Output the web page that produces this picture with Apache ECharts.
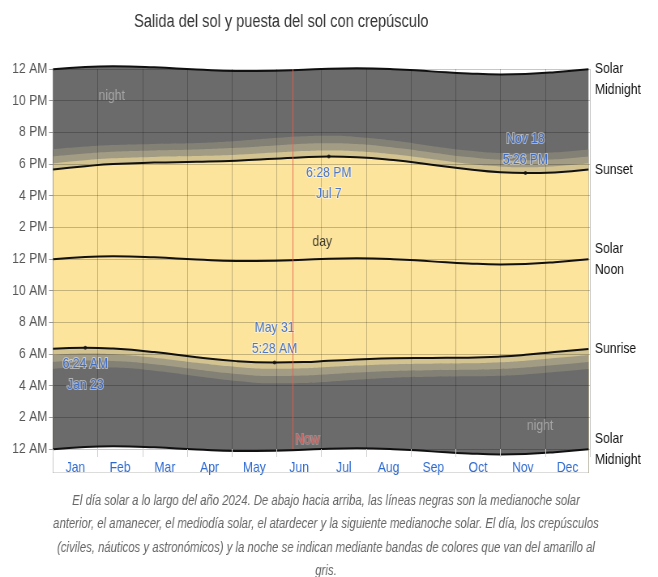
<!DOCTYPE html>
<html><head><meta charset="utf-8">
<script src="https://cdn.jsdelivr.net/npm/echarts@6/dist/echarts.min.js"></script>
<style>
html,body{margin:0;padding:0;background:#fff;overflow:hidden}
#wrap{width:658px;height:577px;overflow:hidden}
#c{width:812px;height:577px;transform:scaleX(0.8103);transform-origin:0 0}
</style>
</head><body><div id="wrap"><div id="c"></div></div>
<script>
const FONT = "'Liberation Sans', Arial, sans-serif";
const S = 658 / 812; // horizontal compression of the whole drawing

// ---- data (hours of day) ----
const months = ['Jan','Feb','Mar','Apr','May','Jun','Jul','Aug','Sep','Oct','Nov','Dec'];
const yTickLabels = ['12 AM','2 AM','4 AM','6 AM','8 AM','10 AM','12 PM','2 PM','4 PM','6 PM','8 PM','10 PM','12 AM'];
// day of year 2024 (0 = Jan 1)
const days       = [0, 22, 41, 69, 98, 125, 151, 171, 188, 207, 232, 258, 283, 305, 322, 342, 365];
const midPrev    = [-0.01, 0.13, 0.17, 0.11, -0.03, -0.12, -0.11, -0.04, 0.02, 0.04, -0.01, -0.15, -0.28, -0.34, -0.31, -0.20, -0.01];
const astroDawn  = [5.06, 5.16, 5.14, 4.94, 4.60, 4.30, 4.15, 4.17, 4.25, 4.37, 4.50, 4.56, 4.59, 4.63, 4.71, 4.86, 5.05];
const nautDawn   = [5.50, 5.59, 5.56, 5.35, 5.02, 4.74, 4.61, 4.64, 4.72, 4.83, 4.93, 4.98, 5.00, 5.05, 5.14, 5.30, 5.49];
const civilDawn  = [5.94, 6.03, 5.98, 5.76, 5.44, 5.18, 5.07, 5.10, 5.18, 5.27, 5.36, 5.39, 5.41, 5.48, 5.58, 5.75, 5.94];
const sunrise    = [6.33, 6.40, 6.34, 6.12, 5.80, 5.55, 5.467, 5.49, 5.57, 5.65, 5.73, 5.75, 5.77, 5.84, 5.95, 6.13, 6.32];
const noon       = [11.99, 12.13, 12.17, 12.11, 11.97, 11.88, 11.89, 11.96, 12.02, 12.04, 11.99, 11.85, 11.72, 11.66, 11.69, 11.80, 11.99];
const sunset     = [17.66, 17.86, 18.00, 18.09, 18.14, 18.21, 18.33, 18.43, 18.467, 18.43, 18.25, 17.96, 17.67, 17.48, 17.433, 17.47, 17.65];
const civilDusk  = [18.04, 18.24, 18.36, 18.45, 18.50, 18.58, 18.72, 18.82, 18.86, 18.81, 18.62, 18.32, 18.02, 17.85, 17.80, 17.86, 18.04];
const nautDusk   = [18.49, 18.67, 18.78, 18.86, 18.92, 19.02, 19.17, 19.28, 19.31, 19.26, 19.04, 18.73, 18.44, 18.27, 18.23, 18.30, 18.48];
const astroDusk  = [18.93, 19.10, 19.20, 19.27, 19.33, 19.46, 19.64, 19.75, 19.78, 19.71, 19.48, 19.14, 18.85, 18.69, 18.66, 18.74, 18.92];
const midNext    = [23.99, 24.13, 24.17, 24.11, 23.97, 23.88, 23.89, 23.96, 24.02, 24.04, 23.99, 23.85, 23.72, 23.66, 23.69, 23.80, 23.99];

// highlighted extremes: [day, hours, label, side]
const extremes = [
  [22, 6.40, '6:24 AM\nJan 23', 'bottom'],
  [151, 5.467, 'May 31\n5:28 AM', 'top'],
  [188, 18.467, '6:28 PM\nJul 7', 'bottom'],
  [322, 17.433, 'Nov 18\n5:26 PM', 'top']
];
const bandTexts = [[40, 22.3, 'night', '#b4b4b4'], [332, 1.45, 'night', '#b4b4b4'], [183.5, 13.08, 'day', '#111']];
const nowDay = 163.5;

const title = 'Salida del sol y puesta del sol con crepúsculo';
const caption = 'El día solar a lo largo del año 2024. De abajo hacia arriba, las líneas negras son la medianoche solar\n' +
  'anterior, el amanecer, el mediodía solar, el atardecer y la siguiente medianoche solar. El día, los crepúsculos\n' +
  '(civiles, náuticos y astronómicos) y la noche se indican mediante bandas de colores que van del amarillo al\n' +
  'gris.';

// ---- build ----
const pairs = a => days.map((d, i) => [d, a[i]]);
const C = { night: '#6b6b6b', astro: '#838076', naut: '#a39c84', civil: '#d2c391', day: '#fce49c', white: '#ffffff' };
const SM = 0.5;

// each layer fills from its curve down to below the axis; later layers cover earlier ones
function layer(arr, color, z) {
  return { type: 'line', xAxisIndex: 1, data: pairs(arr), smooth: SM, symbol: 'none', silent: true, clip: false,
    lineStyle: { width: 0, opacity: 0 }, areaStyle: { color, opacity: 1, origin: -1.5 }, z };
}
function blackLine(arr, label, off) {
  return { type: 'line', xAxisIndex: 1, data: pairs(arr), smooth: SM, symbol: 'none', silent: true, clip: false,
    lineStyle: { color: '#111', width: 2 }, z: 20,
    endLabel: { show: true, formatter: label, distance: 8, color: '#111', fontSize: 15, fontFamily: FONT,
      lineHeight: 21, offset: off || [0, 0] } };
}

const series = [
  layer(midNext, C.night, 1),
  layer(astroDusk, C.astro, 2),
  layer(nautDusk, C.naut, 3),
  layer(civilDusk, C.civil, 4),
  layer(sunset, C.day, 5),
  layer(sunrise, C.civil, 6),
  layer(civilDawn, C.naut, 7),
  layer(nautDawn, C.astro, 8),
  layer(astroDawn, C.night, 9),
  layer(midPrev, C.white, 10),
  blackLine(midPrev, 'Solar\nMidnight'),
  blackLine(sunrise, 'Sunrise'),
  blackLine(noon, 'Solar\nNoon'),
  blackLine(sunset, 'Sunset'),
  blackLine(midNext, 'Solar\nMidnight', [0, 10]),
  { type: 'scatter', xAxisIndex: 1, symbolSize: 4, itemStyle: { color: '#111' }, z: 40, silent: true,
    data: extremes.map(e => ({ value: [e[0], e[1]],
      label: { show: true, formatter: e[2], position: e[3], distance: e[3] === 'top' ? 1 : 4, color: '#1f57c6', fontSize: 15,
        fontFamily: FONT, lineHeight: 21, textBorderColor: 'rgba(255,255,255,0.6)', textBorderWidth: 2 } })) },
  { type: 'scatter', xAxisIndex: 1, symbolSize: 0, z: 40, silent: true,
    data: bandTexts.map(t => ({ value: [t[0], t[1]],
      label: { show: true, formatter: t[2], position: 'inside', color: t[3], fontSize: 15, fontFamily: FONT } })) },
  { type: 'scatter', xAxisIndex: 1, symbolSize: 0, z: 41, silent: true,
    data: [{ value: [nowDay, 0.6], label: { show: true, formatter: 'Now', position: 'right', distance: 3,
      color: '#d9534f', fontSize: 15, fontFamily: FONT, textBorderColor: 'rgba(255,255,255,0.3)', textBorderWidth: 2 } }],
    markLine: { silent: true, symbol: 'none', label: { show: false }, z: 41,
      lineStyle: { color: '#e8604f', width: 1, type: 'solid', opacity: 0.9 }, data: [{ xAxis: nowDay }] } }
];

const option = {
  animation: false,
  backgroundColor: '#fff',
  textStyle: { fontFamily: FONT },
  title: { text: title, left: 130 / S, top: 8,
    textStyle: { fontSize: 18, fontWeight: 'normal', color: '#333', fontFamily: FONT } },
  grid: { left: 53 / S, right: 68 / S, top: 69, bottom: 128 },
  xAxis: [
    { type: 'category', data: months, boundaryGap: true, z: 30,
      axisLine: { show: false },
      axisTick: { show: true, alignWithLabel: false, length: 8, interval: 0, lineStyle: { color: '#cfcfcf' } },
      axisLabel: { color: '#2e6ad2', fontSize: 15, fontFamily: FONT, margin: 11, interval: 0 },
      splitLine: { show: true, interval: 0, lineStyle: { color: 'rgba(0,0,0,0.22)', width: 1 } } },
    { type: 'value', min: 0, max: 366, show: false }
  ],
  yAxis: { type: 'value', min: 0, max: 24, interval: 2, z: 30,
    axisLine: { show: false },
    axisTick: { show: true, length: 5, lineStyle: { color: '#999' } },
    axisLabel: { color: '#555', fontSize: 15, fontFamily: FONT, margin: 7, formatter: v => yTickLabels[Math.round(v / 2)] },
    splitLine: { show: true, lineStyle: { color: 'rgba(0,0,0,0.22)', width: 1 } } },
  graphic: [{ type: 'text', x: 326 / S, y: 489, z: 100, silent: true,
    style: { text: caption, textAlign: 'center', textVerticalAlign: 'top', fill: '#666',
      font: 'italic 14px ' + FONT, lineHeight: 23.5 } }],
  series
};
const chart = echarts.init(document.getElementById('c'));
chart.setOption(option);
</script></body></html>
